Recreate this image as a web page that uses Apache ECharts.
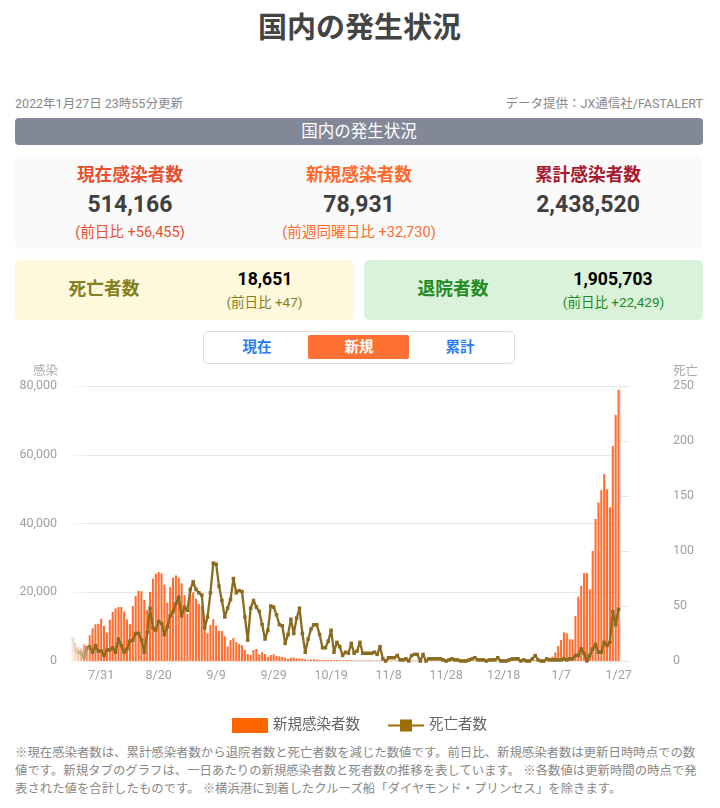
<!DOCTYPE html>
<html>
<head>
  <meta charset="UTF-8">
  <title>国内の発生状況</title>
  <script src="https://cdn.jsdelivr.net/npm/echarts@6/dist/echarts.min.js"></script>
  <style>
    html, body { margin: 0; padding: 0; background: #fff; }
    body { width: 720px; height: 808px; position: relative; overflow: hidden; font-family: Roboto, "Noto Sans CJK JP", sans-serif; color: #404040; }
    .abs { position: absolute; white-space: nowrap; }
    .c { position: absolute; white-space: nowrap; transform: translate(-50%, -50%); }
    .box { position: absolute; box-sizing: border-box; }
    .lbl { font-size: 17.7px; font-weight: 700; }
    .num { font-size: 23px; font-weight: 700; }
    .sub { font-size: 14.6px; }
    .val { font-size: 17.6px; font-weight: 700; color: #000; }
    .sub2 { font-size: 13.5px; }
    .tab { font-size: 14.5px; font-weight: 700; color: #2b7bf0; }
    #chart { position: absolute; left: 0; top: 360px; width: 720px; height: 380px; }
  </style>
</head>
<body>
<div class="c" style="left:359.5px;top:25px;font-size:29px;font-weight:700;color:#444;">国内の発生状況</div>
<div class="abs" style="left:15px;top:93px;font-size:12.5px;color:#888;">2022年1月27日 23時55分更新</div>
<div class="abs" style="right:17px;top:93px;font-size:12.5px;color:#888;">データ提供：JX通信社/FASTALERT</div>
<div class="box" style="left:15px;top:118px;width:688px;height:27px;background:#838899;border-radius:4px;"></div>
<div class="c" style="left:359px;top:130px;font-size:16.5px;color:#fff;">国内の発生状況</div>

<div class="box" style="left:15px;top:156px;width:688px;height:93px;background:#fafafa;border-radius:5px;"></div>
<div class="c lbl" style="left:130px;top:173px;color:#e8502f;">現在感染者数</div>
<div class="c num" style="left:130px;top:204px;">514,166</div>
<div class="c sub" style="left:130px;top:230px;color:#e8502f;">(前日比 +56,455)</div>
<div class="c lbl" style="left:359px;top:173px;color:#ff6b2e;">新規感染者数</div>
<div class="c num" style="left:359px;top:204px;">78,931</div>
<div class="c sub" style="left:359px;top:230px;color:#ff6b2e;">(前週同曜日比 +32,730)</div>
<div class="c lbl" style="left:588px;top:173px;color:#a8182e;">累計感染者数</div>
<div class="c num" style="left:588px;top:204px;">2,438,520</div>

<div class="box" style="left:15px;top:260px;width:339px;height:60px;background:#fff8dc;border-radius:5px;"></div>
<div class="c lbl" style="left:104px;top:287px;color:#808020;">死亡者数</div>
<div class="c val" style="left:265px;top:279px;">18,651</div>
<div class="c sub2" style="left:264.5px;top:301px;color:#808020;">(前日比 +47)</div>
<div class="box" style="left:364px;top:260px;width:339px;height:60px;background:#d9f2d9;border-radius:5px;"></div>
<div class="c lbl" style="left:453px;top:287px;color:#228b22;">退院者数</div>
<div class="c val" style="left:613px;top:279px;">1,905,703</div>
<div class="c sub2" style="left:613.5px;top:301px;color:#228b22;">(前日比 +22,429)</div>

<div class="box" style="left:203px;top:331px;width:312px;height:33px;border:1px solid #ddd;border-radius:5px;"></div>
<div class="box" style="left:308px;top:335px;width:101px;height:24px;background:#ff7033;border-radius:2px;"></div>
<div class="c tab" style="left:257px;top:345px;">現在</div>
<div class="c tab" style="left:359px;top:345px;color:#fff;">新規</div>
<div class="c tab" style="left:460px;top:345px;">累計</div>

<div id="chart"></div>

<div class="abs" style="left:15px;top:744px;font-size:12.4px;line-height:18px;color:#888;">※現在感染者数は、累計感染者数から退院者数と死亡者数を減じた数値です。前日比、新規感染者数は更新日時時点での数<br>値です。新規タブのグラフは、一日あたりの新規感染者数と死者数の推移を表しています。 ※各数値は更新時間の時点で発<br>表された値を合計したものです。 ※横浜港に到着したクルーズ船「ダイヤモンド・プリンセス」を除きます。</div>

<script type="text/javascript">
  var dates = [
    '7/21','7/22','7/23','7/24','7/25','7/26','7/27','7/28','7/29','7/30','7/31',
    '8/1','8/2','8/3','8/4','8/5','8/6','8/7','8/8','8/9','8/10','8/11','8/12','8/13','8/14','8/15','8/16','8/17','8/18','8/19','8/20','8/21','8/22','8/23','8/24','8/25','8/26','8/27','8/28','8/29','8/30','8/31',
    '9/1','9/2','9/3','9/4','9/5','9/6','9/7','9/8','9/9','9/10','9/11','9/12','9/13','9/14','9/15','9/16','9/17','9/18','9/19','9/20','9/21','9/22','9/23','9/24','9/25','9/26','9/27','9/28','9/29','9/30',
    '10/1','10/2','10/3','10/4','10/5','10/6','10/7','10/8','10/9','10/10','10/11','10/12','10/13','10/14','10/15','10/16','10/17','10/18','10/19','10/20','10/21','10/22','10/23','10/24','10/25','10/26','10/27','10/28','10/29','10/30','10/31',
    '11/1','11/2','11/3','11/4','11/5','11/6','11/7','11/8','11/9','11/10','11/11','11/12','11/13','11/14','11/15','11/16','11/17','11/18','11/19','11/20','11/21','11/22','11/23','11/24','11/25','11/26','11/27','11/28','11/29','11/30',
    '12/1','12/2','12/3','12/4','12/5','12/6','12/7','12/8','12/9','12/10','12/11','12/12','12/13','12/14','12/15','12/16','12/17','12/18','12/19','12/20','12/21','12/22','12/23','12/24','12/25','12/26','12/27','12/28','12/29','12/30','12/31',
    '1/1','1/2','1/3','1/4','1/5','1/6','1/7','1/8','1/9','1/10','1/11','1/12','1/13','1/14','1/15','1/16','1/17','1/18','1/19','1/20','1/21','1/22','1/23','1/24','1/25','1/26','1/27'
  ];
  var newCases = [
    6600,5300,4000,3600,4900,4500,7500,9500,10700,10800,
    12300,10200,8300,12000,14300,15300,15700,15700,14400,12100,
    10700,16000,18900,20400,20300,17800,14800,20100,24000,25400,
    25900,25500,22200,17000,21500,24300,24900,24200,22600,19200,
    13700,20200,20000,18100,16600,16000,12000,8100,10500,12200,
    10300,8800,8700,7200,4200,6100,6700,5500,4900,4600,
    3200,2000,1750,3200,3500,2000,2600,2000,1250,1750,
    1950,1450,1350,1150,970,600,970,970,800,780,
    680,500,300,400,500,420,350,330,300,280,
    260,240,230,210,200,240,230,210,190,170,
    160,150,180,190,170,160,150,140,130,150,
    160,170,150,140,120,110,130,150,160,150,
    140,110,100,130,150,160,150,130,110,90,
    120,130,140,130,120,100,90,120,130,150,
    160,150,140,130,100,90,140,150,160,150,
    130,100,120,180,190,170,150,110,130,180,
    200,220,250,300,400,500,780,1260,2500,4360,
    6100,8300,8050,6300,6300,13100,18700,21900,25600,25600,
    20900,32000,41300,46100,49700,54400,49950,44700,62600,71600,78900
  ];
  var deaths = [
    20,10,8,7,3,12,13,8,14,9,
    9,5,10,10,12,8,20,14,8,11,
    18,19,25,25,19,8,26,48,30,28,
    36,34,24,31,41,45,52,58,41,49,
    46,65,72,65,62,60,30,40,62,89,
    88,68,55,40,48,56,75,62,64,63,
    40,19,48,55,49,45,33,20,28,50,
    49,42,33,32,16,24,38,25,39,48,
    25,8,20,29,33,33,24,12,12,18,
    28,8,17,13,5,8,7,16,7,9,
    17,7,7,7,7,8,6,13,2,0,
    3,3,3,5,1,1,2,0,5,6,
    6,0,6,0,2,2,2,2,2,1,
    0,1,2,1,1,0,0,0,1,2,
    3,1,1,1,0,1,1,1,3,0,
    0,0,1,2,2,2,0,1,0,0,
    2,5,1,0,0,2,1,1,1,1,
    1,2,1,2,2,5,5,11,7,0,
    5,11,15,8,8,17,14,17,45,33,47
  ];

  var chart = echarts.init(document.getElementById('chart'));
  var fontFamily = 'Roboto, "Noto Sans CJK JP", sans-serif';
  chart.setOption({
    animation: false,
    textStyle: { fontFamily: fontFamily },
    grid: { left: 71, top: 26, width: 549, height: 275, containLabel: false },
    legend: {
      top: 353,
      left: 227,
      itemWidth: 36,
      itemHeight: 15,
      itemGap: 27,
      textStyle: { color: '#666', fontSize: 14.5, fontFamily: fontFamily },
      data: [
        { name: '新規感染者数', icon: 'rect', itemStyle: { color: '#ff6600' } },
        { name: '死亡者数', itemStyle: { color: '#9b6f00' }, lineStyle: { color: '#9b6f00' } }
      ]
    },
    xAxis: {
      type: 'category',
      data: dates,
      axisTick: { show: false },
      axisLine: { lineStyle: { color: '#e6e6e6' } },
      axisLabel: {
        color: '#a0a0a0',
        fontSize: 12.5,
        margin: 9,
        interval: function (i) { return i % 20 === 10; }
      }
    },
    yAxis: [
      {
        type: 'value', min: 0, max: 80000, interval: 20000,
        name: '感染', nameLocation: 'end', nameGap: 8,
        nameTextStyle: { color: '#aaa', fontSize: 12.5, align: 'right', padding: [0, 13, 0, 0] },
        axisLine: { show: false }, axisTick: { show: false },
        axisLabel: { color: '#a0a0a0', fontSize: 12.5, margin: 14 },
        splitLine: { lineStyle: { color: '#e6e6e6' } }
      },
      {
        type: 'value', min: 0, max: 250, interval: 50,
        name: '死亡', nameLocation: 'end', nameGap: 8,
        nameTextStyle: { color: '#aaa', fontSize: 12.5, align: 'left', padding: [0, 0, 0, 53] },
        axisLine: { show: true, lineStyle: { color: '#e6e6e6' } },
        axisTick: { show: true, length: 10, lineStyle: { color: '#e6e6e6' } },
        axisLabel: { color: '#a0a0a0', fontSize: 12.5, margin: 53 },
        splitLine: { show: false }
      }
    ],
    series: [
      {
        name: '新規感染者数', type: 'bar', data: newCases,
        barWidth: '72%',
        itemStyle: { color: '#ff6e30' }
      },
      {
        name: '死亡者数', type: 'line', yAxisIndex: 1, data: deaths,
        showAllSymbol: true, symbol: 'rect', symbolSize: 3.5,
        lineStyle: { color: '#8b6b1f', width: 2.3 },
        itemStyle: { color: '#8b6b1f' }
      }
    ],
    // left edge of the plot fades out in the original
    graphic: [{
      type: 'rect', z: 100, silent: true,
      shape: { x: 70, y: 20, width: 22, height: 282 },
      style: {
        fill: {
          type: 'linear', x: 0, y: 0, x2: 1, y2: 0,
          colorStops: [
            { offset: 0, color: 'rgba(255,255,255,0.92)' },
            { offset: 1, color: 'rgba(255,255,255,0)' }
          ]
        }
      }
    }]
  });
</script>
</body>
</html>
